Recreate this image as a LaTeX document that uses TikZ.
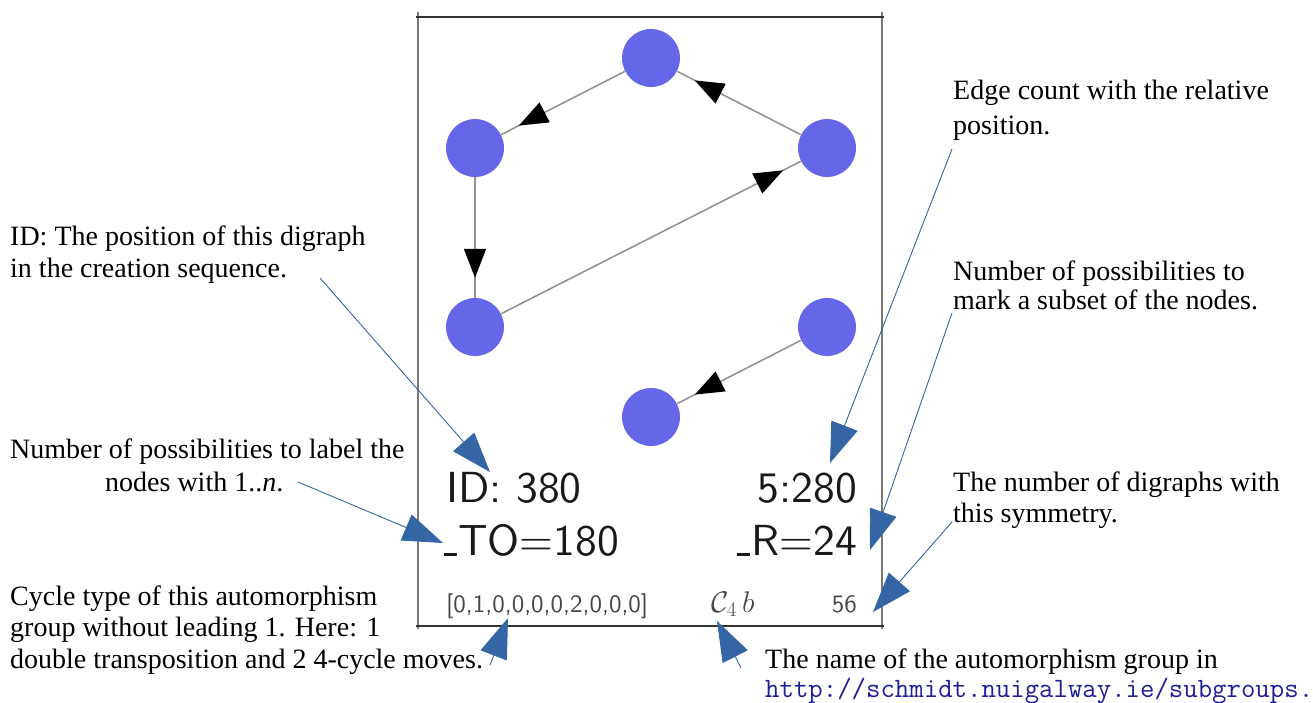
\documentclass[tikz,border=0pt]{standalone}
\usepackage{fontspec}
\setmainfont{Liberation Serif}
\newfontfamily\boxsf{lmsans10-regular.otf}
\usetikzlibrary{arrows.meta,decorations.markings}
\definecolor{vblue}{RGB}{102,102,232}
\definecolor{cblue}{RGB}{52,101,164}
\definecolor{urlblue}{RGB}{30,30,150}
\definecolor{framedark}{RGB}{50,50,50}
\definecolor{frameside}{RGB}{120,120,120}
\newcommand\lowbar{\rule[-0.02em]{0.29em}{0.07em}\kern0.03em}
\begin{document}
\begin{tikzpicture}[x=1pt,y=-1pt,
  vertex/.style={circle, fill=vblue, draw=none, minimum size=58pt, inner sep=0pt},
  vedge/.style={draw=black!42, line width=1.6pt, postaction={decorate},
    decoration={markings, mark=at position -20pt with {\arrow{Triangle[length=29pt,width=22pt,color=black]}}}},
  note/.style={align=left, anchor=base west, inner sep=0pt},
  big/.style={font=\boxsf\fontsize{43.5}{50}\selectfont, inner sep=0pt, text=black!90},
  small/.style={font=\boxsf\fontsize{25}{30}\selectfont, inner sep=0pt, text=black!72},
  callout/.style={draw=cblue, line width=0.9pt, -{Triangle[length=40pt,width=28pt]}}
]
\useasboundingbox (0,0) rectangle (1313,702);

% frame
\draw[frameside, line width=2pt] (418,12) -- (418,629);
\draw[frameside, line width=2pt] (882,12) -- (882,629);
\draw[framedark, line width=2.5pt] (416,17) -- (884,17);
\draw[framedark, line width=2.5pt] (416,626) -- (884,626);

% digraph
\node[vertex] (t)  at (651,58)  {};
\node[vertex] (l)  at (475,148) {};
\node[vertex] (r)  at (827,148) {};
\node[vertex] (ll) at (475,327) {};
\node[vertex] (lr) at (827,327) {};
\node[vertex] (b)  at (651,417) {};
\draw[vedge] (t) -- (l);
\draw[vedge] (r) -- (t);
\draw[vedge] (l) -- (ll);
\draw[vedge] (ll) -- (r);
\draw[vedge] (lr) -- (b);

% texts inside the frame
\node[big, anchor=base west] (id) at (446,502) {ID: 380};
\node[big, anchor=base east] (ec) at (857,502) {5:280};
\node[big, anchor=base west] (to) at (444,555) {\lowbar TO=180};
\node[big, anchor=base east] (rr) at (857,555) {\lowbar R=24};
\node[small, anchor=base west] (cyc) at (446,612) {[0,1,0,0,0,0,2,0,0,0]};
\node[small, anchor=base west, font=\fontsize{24}{28}\selectfont, scale=1.2] (grp) at (711,612) {$\mathcal{C}_{4}\,b$};
\node[small, anchor=base east] (num) at (857,612) {56};

% explanations (anchor = baseline of the last line)
\node[note, font=\fontsize{28}{32}\selectfont] (nA) at (10,277)
  {ID: The position of this digraph\\in the creation sequence.};
\node[note, font=\fontsize{28}{33}\selectfont] (nB) at (10,491)
  {Number of possibilities to label the\\\hspace*{95pt}nodes with 1..\textit{n}.};
\node[note, font=\fontsize{28}{31.5}\selectfont] (nC) at (10,668)
  {Cycle type of this automorphism\\group without leading 1. Here: 1\\double transposition and 2 4-cycle moves.};
\node[note, font=\fontsize{28}{35}\selectfont] (nD) at (953,134)
  {Edge count with the relative\\position.};
\node[note, font=\fontsize{28}{29}\selectfont] (nE) at (953,309)
  {Number of possibilities to\\mark a subset of the nodes.};
\node[note, font=\fontsize{28}{31}\selectfont] (nF) at (953,522)
  {The number of digraphs with\\this symmetry.};
\node[note, font=\fontsize{28}{29}\selectfont] (nG) at (765,697)
  {The name of the automorphism group in\\\textcolor{urlblue}{\ttfamily http://schmidt.nuigalway.ie/subgroups.}};

% callout ends
\coordinate (sA) at (320,278);  \coordinate (eA) at (490,472);
\coordinate (sB) at (298,482);  \coordinate (eB) at (443,543);
\coordinate (sC) at (490,665);  \coordinate (eC) at (508,618);
\coordinate (sD) at (952,149);  \coordinate (eD) at (830,463);
\coordinate (sE) at (952,313);  \coordinate (eE) at (870,550);
\coordinate (sF) at (952,522);  \coordinate (eF) at (873,612);
\coordinate (sG) at (741,668);  \coordinate (eG) at (717,621);
\draw[callout] (sA) -- (eA);
\draw[callout] (sB) -- (eB);
\draw[callout] (sC) -- (eC);
\draw[callout] (sD) -- (eD);
\draw[callout] (sE) -- (eE);
\draw[callout] (sF) -- (eF);
\draw[callout] (sG) -- (eG);
\end{tikzpicture}
\end{document}
